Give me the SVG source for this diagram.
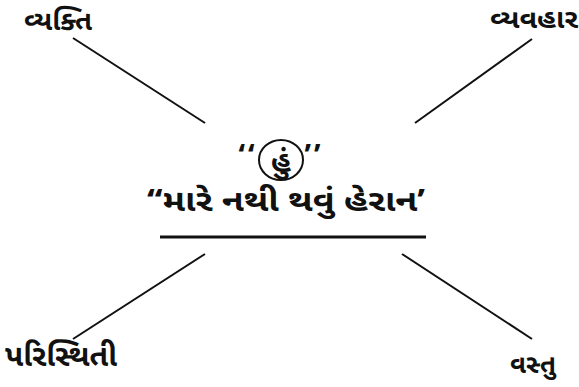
<svg xmlns="http://www.w3.org/2000/svg" width="579" height="387" viewBox="0 0 579 387">
<style>
.t{font-family:"Noto Sans Gujarati","Lohit Gujarati","Shruti","Noto Sans",sans-serif;font-weight:bold;fill:#111}
.c{stroke:#111;stroke-width:2;fill:none}
</style>
<rect width="579" height="387" fill="#fff"/>
<g id="connectors">
<line class="c" x1="73" y1="38" x2="205" y2="123"/>
<line class="c" x1="532" y1="39" x2="415" y2="123"/>
<line class="c" x1="205" y1="254" x2="73" y2="339"/>
<line class="c" x1="402" y1="254" x2="532" y2="339"/>
</g>
<g id="vyakti"><text class="t" x="24" y="30" font-size="27" textLength="68" lengthAdjust="spacingAndGlyphs">વ્યક્તિ</text></g>
<g id="vyavahar"><text class="t" x="490" y="28" font-size="26" textLength="88" lengthAdjust="spacingAndGlyphs">વ્યવહાર</text></g>
<g id="center">
<text class="t" x="248" y="166" font-size="30" text-anchor="middle" letter-spacing="3">‘‘</text>
<ellipse cx="281" cy="160" rx="22" ry="20" fill="none" stroke="#111" stroke-width="2"/>
<text class="t" x="281" y="172" font-size="30" text-anchor="middle">હું</text>
<text class="t" x="314" y="166" font-size="30" text-anchor="middle" letter-spacing="3">’’</text>
<text class="t" x="147" y="211" font-size="30" textLength="278" lengthAdjust="spacingAndGlyphs">‘‘મારે નથી થવું હેરાન’</text>
<line x1="160" y1="237" x2="426" y2="237" stroke="#111" stroke-width="3"/>
</g>
<g id="paristhiti"><text class="t" x="5" y="366" font-size="30" textLength="112" lengthAdjust="spacingAndGlyphs">પરિસ્થિતી</text></g>
<g id="vastu"><text class="t" x="510" y="373" font-size="26" textLength="46" lengthAdjust="spacingAndGlyphs">વસ્તુ</text></g>
</svg>
